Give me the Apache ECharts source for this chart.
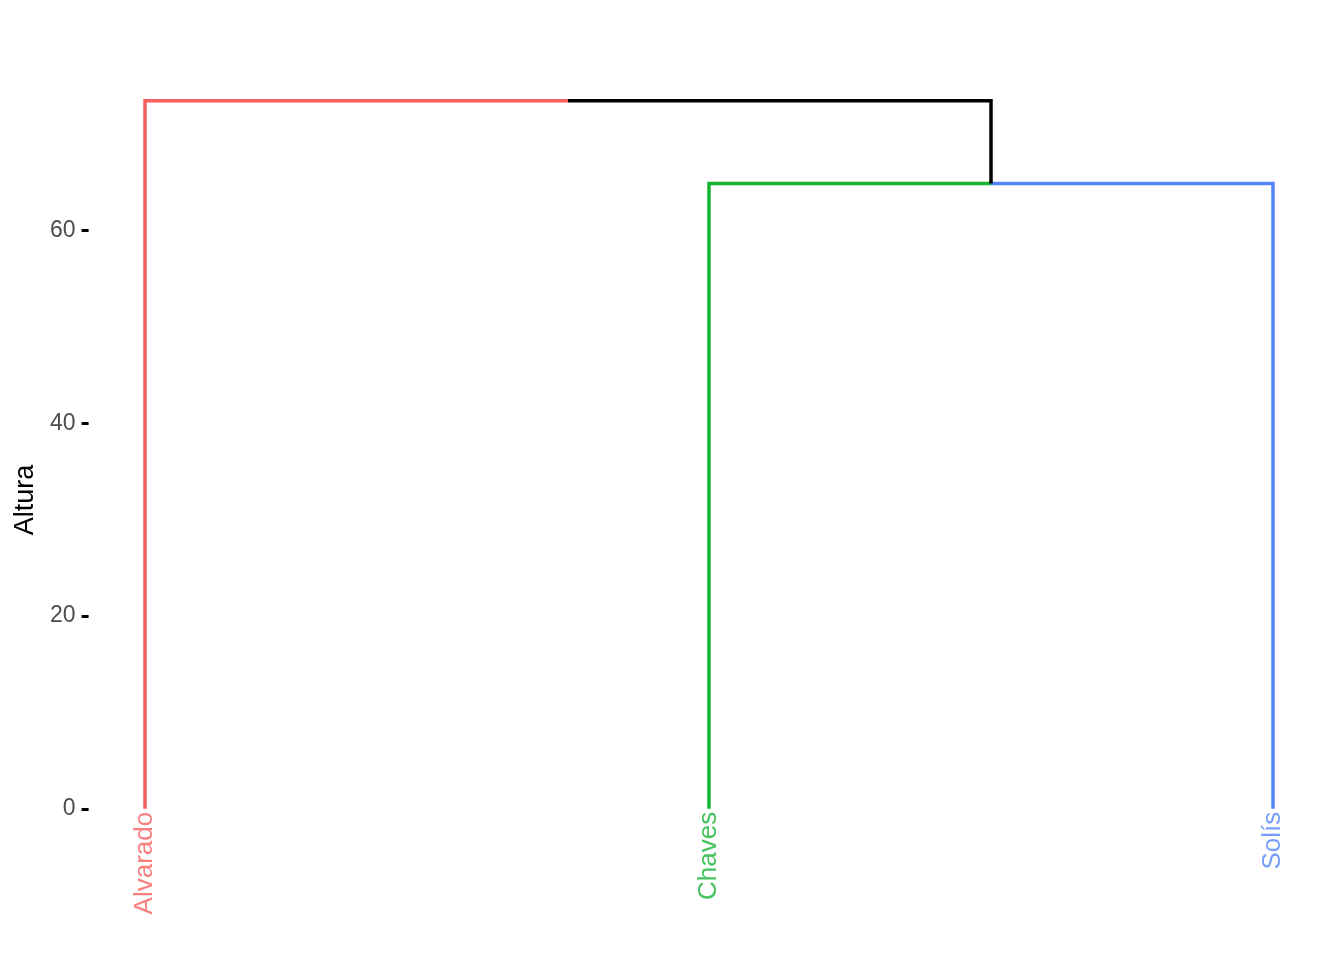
<!DOCTYPE html>
<html>
<head>
<meta charset="utf-8">
<script src="https://cdn.jsdelivr.net/npm/echarts@6/dist/echarts.min.js"></script>
<style>
html,body{margin:0;padding:0;background:#fff;}
#chart{width:1344px;height:960px;}
</style>
</head>
<body>
<div id="chart"></div>
<script>
// Leaves (in dendrogram order) and their cluster colours
const leaves = ['Alvarado', 'Chaves', 'Solís'];
const leafColors = ['#F75F5F', '#15B332', '#5586FF'];
// Merges (hclust style): children refs "L<i>" = leaf i, "M<j>" = merge j
const mergeA = ['L1', 'L0'];
const mergeB = ['L2', 'M0'];
const mergeHeights = [64.9, 73.5];
// Y axis tick labels
const yTicks = [0, 20, 40, 60];
const mixedColor = '#000000';

const nodes = [];
const segs = [];
function nodeOf(ref) {
  const i = +ref.slice(1);
  if (ref[0] === 'L') return { x: i + 1, h: 0, color: leafColors[i] };
  return nodes[i];
}
for (let m = 0; m < mergeHeights.length; m++) {
  const A = nodeOf(mergeA[m]);
  const B = nodeOf(mergeB[m]);
  const h = mergeHeights[m];
  const x = (A.x + B.x) / 2;
  [A, B].forEach(c => {
    segs.push({ color: c.color, pts: [[c.x, c.h], [c.x, h], [x, h]] });
  });
  nodes.push({ x: x, h: h, color: mixedColor });
}

const series = segs.map(s => ({
  type: 'line',
  data: s.pts,
  symbol: 'none',
  silent: true,
  lineStyle: { color: s.color, width: 3.5, cap: 'butt', join: 'miter' },
  z: s.color === mixedColor ? 3 : 2
}));

series.push({
  type: 'scatter',
  symbolSize: 0,
  silent: true,
  data: leaves.map((n, i) => ({
    value: [i + 1, 0],
    name: n,
    label: { color: leafColors[i] }
  })),
  label: {
    show: true,
    formatter: p => p.name,
    position: 'bottom',
    distance: 3,
    rotate: 90,
    align: 'right',
    verticalAlign: 'middle',
    fontSize: 26,
    fontFamily: 'Liberation Sans, Arial, sans-serif'
  }
});

const chart = echarts.init(document.getElementById('chart'), null, { renderer: 'canvas' });
chart.setOption({
  animation: false,
  backgroundColor: '#ffffff',
  grid: { left: 88.6, right: 14.6, top: 65, bottom: 25 },
  xAxis: {
    type: 'value',
    min: 0.9,
    max: 3.1,
    show: false,
    splitLine: { show: false }
  },
  yAxis: {
    type: 'value',
    min: -13.1,
    max: 77.2,
    name: 'Altura',
    nameLocation: 'middle',
    nameGap: 50,
    nameRotate: 90,
    nameTextStyle: { color: '#000', fontSize: 27, fontFamily: 'Liberation Sans, Arial, sans-serif' },
    axisLine: { show: false },
    splitLine: { show: false },
    axisTick: {
      show: true,
      inside: false,
      length: 7,
      customValues: yTicks,
      lineStyle: { color: '#000', width: 3 }
    },
    axisLabel: {
      customValues: yTicks,
      margin: 13,
      color: '#4D4D4D',
      fontSize: 23,
      fontFamily: 'Liberation Sans, Arial, sans-serif'
    }
  },
  series: series
});
</script>
</body>
</html>
